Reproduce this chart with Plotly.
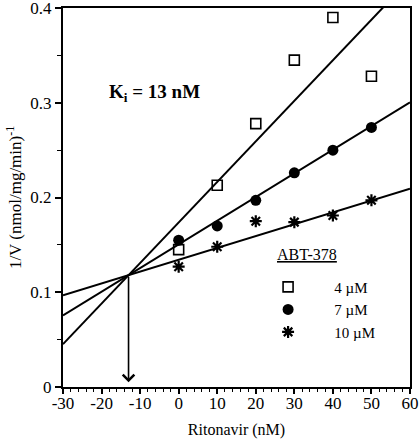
import numpy as np
import plotly.graph_objects as go

# ---- data ----
ritonavir = [0, 10, 20, 30, 40, 50]
inv_v_4uM = [0.145, 0.213, 0.278, 0.345, 0.390, 0.328]
inv_v_7uM = [0.155, 0.170, 0.197, 0.226, 0.250, 0.274]
inv_v_10uM = [0.127, 0.148, 0.175, 0.174, 0.181, 0.197]
series_names = ["4 \u00b5M", "7 \u00b5M", "10 \u00b5M"]
legend_title = "ABT-378"

# fitted lines (common intersection at x = -Ki)
ki_nM = 13
y_intersect = 0.118
slopes = [0.00428, 0.00250, 0.00125]
line_x = [-30, 60]

x_tickvals = [-30, -20, -10, 0, 10, 20, 30, 40, 50, 60]
x_ticktext = ["-30", "-20", "-10", "0", "10", "20", "30", "40", "50", "60"]
y_tickvals = [0, 0.1, 0.2, 0.3, 0.4]
y_ticktext = ["0", "0.1", "0.2", "0.3", "0.4"]

FONT = "Liberation Serif"
PAD = "\u00a0" * 7

fig = go.Figure()

# fit lines
for s in slopes:
    lx = np.array(line_x, dtype=float)
    ly = y_intersect + s * (lx + ki_nM)
    fig.add_trace(go.Scatter(x=lx, y=ly, mode="lines",
                             line=dict(color="black", width=2),
                             showlegend=False, hoverinfo="skip"))

fig.add_trace(go.Scatter(x=ritonavir, y=inv_v_4uM, mode="markers", name=PAD + series_names[0],
                         marker=dict(symbol="square-open", size=10, color="black",
                                     line=dict(width=1.6, color="black"))))
fig.add_trace(go.Scatter(x=ritonavir, y=inv_v_7uM, mode="markers", name=PAD + series_names[1],
                         marker=dict(symbol="circle", size=11, color="black")))
fig.add_trace(go.Scatter(x=ritonavir, y=inv_v_10uM, mode="markers", name=PAD + series_names[2],
                         marker=dict(symbol="asterisk-open", size=10, color="black",
                                     line=dict(width=2.2, color="black"))))

# arrow from intersection to x-axis
fig.add_annotation(x=-ki_nM, y=0.005, ax=-ki_nM, ay=y_intersect,
                   xref="x", yref="y", axref="x", ayref="y",
                   showarrow=True, arrowhead=4, arrowsize=1.4, arrowwidth=1.6,
                   arrowcolor="black", text="")

fig.add_annotation(x=-18.5, y=0.310, xref="x", yref="y", showarrow=False,
                   xanchor="left", yanchor="middle",
                   text="<b>K<sub>i</sub> = 13 nM</b>",
                   font=dict(family=FONT, size=19, color="black"))

# legend heading (underlined)
fig.add_annotation(x=0.703, y=0.349, xref="paper", yref="paper", showarrow=False,
                   xanchor="center", yanchor="middle",
                   text="<u>" + legend_title + "</u>",
                   font=dict(family=FONT, size=16, color="black"))

fig.update_layout(
    width=420, height=440,
    margin=dict(l=63, r=10, t=8, b=53),
    paper_bgcolor="white", plot_bgcolor="white",
    font=dict(family=FONT, size=16, color="black"),
    legend=dict(x=0.591, y=0.307, xanchor="left", yanchor="top",
                font=dict(family=FONT, size=15),
                bgcolor="rgba(0,0,0,0)", itemwidth=30,
                tracegroupgap=0),
    showlegend=True,
)

fig.update_xaxes(range=[-30, 60], tickvals=x_tickvals, ticktext=x_ticktext,
                 ticks="outside", ticklen=5, tickwidth=1.5, tickcolor="black",
                 minor=dict(dtick=2, ticks="outside", ticklen=3, tickwidth=1, tickcolor="black"),
                 showline=True, linewidth=2, linecolor="black", mirror=True,
                 showgrid=False, zeroline=False, automargin=False,
                 ticklabelstandoff=-5, ticklabeloverflow="allow",
                 title=dict(text="Ritonavir (nM)", font=dict(family=FONT, size=16), standoff=11),
                 tickfont=dict(family=FONT, size=17))
fig.update_yaxes(range=[0, 0.4], tickvals=y_tickvals, ticktext=y_ticktext,
                 ticks="outside", ticklen=6, tickwidth=1.5, tickcolor="black",
                 minor=dict(dtick=0.05, tick0=0, ticks="outside", ticklen=4, tickwidth=1, tickcolor="black"),
                 showline=True, linewidth=2, linecolor="black", mirror=True,
                 showgrid=False, zeroline=False, automargin=False,
                 ticklabeloverflow="allow",
                 title=dict(text="1/V (nmol/mg/min)<sup>-1</sup>", font=dict(family=FONT, size=17), standoff=4),
                 tickfont=dict(family=FONT, size=17))

fig.write_html("out.html", config={"displayModeBar": False},
               post_script="document.body.style.margin='0';")
